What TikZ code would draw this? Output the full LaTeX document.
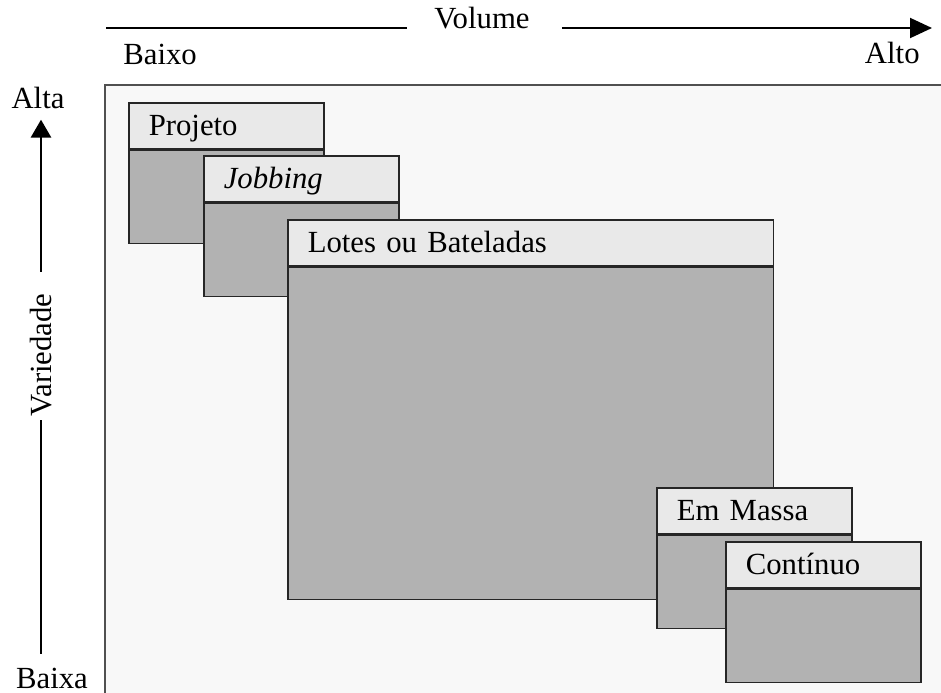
\documentclass[tikz,border=0pt]{standalone}
\usepackage{fontspec}
\setmainfont{Liberation Serif}
\usetikzlibrary{arrows.meta,positioning}
\definecolor{framegray}{HTML}{F8F8F8}
\definecolor{headgray}{HTML}{E9E9E9}
\definecolor{bodygray}{HTML}{B2B2B2}
\definecolor{edgegray}{HTML}{505050}

\begin{document}
\begin{tikzpicture}[x=0.02cm,y=-0.02cm,font=\fontsize{17.5}{21}\selectfont]
    \tikzstyle{every node}=[inner sep=0pt]
    \tikzstyle{headbox}=[draw=black!85, fill=headgray, line width=0.9pt, anchor=north west, align=left, inner xsep=0.4cm, text height=0.42cm, text depth=0.02cm, minimum height=0.92cm]
    \tikzstyle{smallhead}=[text width=3.1cm]
    \tikzstyle{bodybox}=[draw=black!85, fill=bodygray, line width=0.9pt, minimum height=1.86cm, minimum width=3.9cm]
    \tikzstyle{vaxis}=[line width=1.7pt, -{Triangle[length=0.36cm,width=0.4cm]}]
    \tikzstyle{haxis}=[line width=1.1pt]

    \useasboundingbox (0,0) rectangle (941,693);
    \clip (0,0) rectangle (941,693);
    \draw[draw=edgegray, fill=framegray, line width=1.1pt] (105,85) rectangle (960,720);

    % volume axis
    \node[anchor=base] (volume) at (482,29) {Volume};
    \node[anchor=base west] (baixo) at (123,64) {Baixo};
    \node[anchor=base east] (alto) at (920,63) {Alto};
    \coordinate (hstart) at (106,28);
    \coordinate (hend) at (932,28);
    \draw[haxis, shorten >=0.54cm] (hstart) -- (hstart -| volume.west);
    \draw[haxis, -{Triangle[length=0.44cm,width=0.4cm]}, shorten <=0.64cm] (hend -| volume.east) -- (hend);

    % variety axis
    \node (alta) at (38,98) {Alta};
    \node[rotate=90] (variedade) at (41,355) {Variedade};
    \node (baixa) at (52,678) {Baixa};
    \draw[vaxis, shorten <=0.43cm, shorten >=0.21cm] (variedade.east) -- (variedade.east |- alta.south);
    \draw[line width=1.7pt, shorten <=0.07cm, shorten >=0.27cm] (variedade.west) -- (variedade.west |- baixa.north);

    % process types
    \node[headbox, smallhead] (projetohead) at (128,102) {Projeto};
    \node[bodybox, below=0pt of projetohead] (projetobody) {};

    \node[headbox, smallhead] (jobbinghead) at (203,155) {\textit{Jobbing}};
    \node[bodybox, below=0pt of jobbinghead] (jobbingbody) {};

    \node[headbox, text width=8.92cm] (loteshead) at (287,219) {Lotes ou Bateladas};
    \node[bodybox, minimum width=9.72cm, minimum height=6.64cm, below=0pt of loteshead] (lotesbody) {};

    \node[headbox, smallhead] (massahead) at (656,487) {Em Massa};
    \node[bodybox, below=0pt of massahead] (massabody) {};

    \node[headbox, smallhead] (continuohead) at (725,541) {Contínuo};
    \node[bodybox, below=0pt of continuohead] (continuobody) {};
\end{tikzpicture}
\end{document}
